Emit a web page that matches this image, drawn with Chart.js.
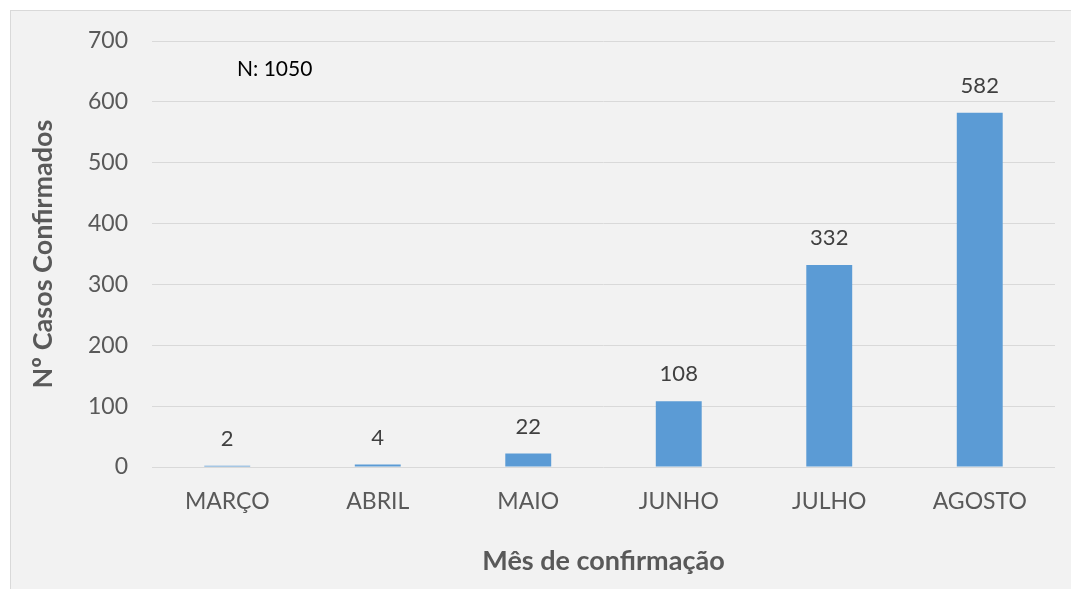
<!DOCTYPE html>
<html>
<head>
<meta charset="utf-8">
<script src="https://cdn.jsdelivr.net/npm/chart.js@4"></script>
<style>
    html, body { margin: 0; padding: 0; background: #ffffff; overflow: hidden; }
    .frame {
        position: absolute;
        left: 10px;
        top: 10px;
        width: 1080px;
        height: 600px;
        background: #f2f2f2;
        border: 1px solid #d9d9d9;
    }
    .wrap { position: absolute; left: 0; top: 0; width: 1071px; height: 589px; }
</style>
</head>
<body>
<div class="frame"></div>
<div class="wrap"><canvas id="casesChart" width="1071" height="589"></canvas></div>
<script>
// ==================== Data ====================
const months = ['MARÇO', 'ABRIL', 'MAIO', 'JUNHO', 'JULHO', 'AGOSTO'];
const confirmedCases = [2, 4, 22, 108, 332, 582];
const totalLabel = 'N: 1050';

const FONT = 'Lato, "Open Sans", sans-serif';

// ==================== Value labels ====================
const valueLabels = {
    id: 'valueLabels',
    afterDatasetsDraw(chart) {
        const ctx = chart.ctx;
        const meta = chart.getDatasetMeta(0);
        ctx.save();
        ctx.font = '22px ' + FONT;
        ctx.fillStyle = '#404040';
        ctx.textAlign = 'center';
        ctx.textBaseline = 'alphabetic';
        meta.data.forEach((bar, i) => {
            ctx.fillText(String(confirmedCases[i]), bar.x, bar.y - 20);
        });

        // total count note
        const yScale = chart.scales.y;
        ctx.font = '21px ' + FONT;
        ctx.fillStyle = '#000000';
        ctx.textAlign = 'left';
        ctx.textBaseline = 'middle';
        ctx.fillText(totalLabel, chart.chartArea.left + 85, yScale.getPixelForValue(654));
        ctx.restore();
    }
};

// ==================== Chart ====================
const ctx = document.getElementById('casesChart').getContext('2d');
const casesChart = new Chart(ctx, {
    type: 'bar',
    data: {
        labels: months,
        datasets: [{
            data: confirmedCases,
            backgroundColor: '#5b9bd5',
            borderWidth: 0,
            categoryPercentage: 1,
            barPercentage: 0.305
        }]
    },
    options: {
        responsive: false,
        animation: false,
        layout: {
            padding: { top: 41, right: 16, bottom: 0, left: 0 }
        },
        plugins: {
            legend: { display: false },
            tooltip: { enabled: false }
        },
        scales: {
            x: {
                grid: { display: false, drawTicks: false },
                border: { display: false },
                ticks: {
                    color: '#595959',
                    font: { family: FONT, size: 23 },
                    padding: 21
                },
                title: {
                    display: true,
                    text: 'Mês de confirmação',
                    color: '#595959',
                    font: { family: FONT, size: 27, weight: 'bold' },
                    padding: { top: 12, bottom: 12 }
                },
                afterFit(scale) { scale.height = 122; }
            },
            y: {
                min: 0,
                max: 700,
                grid: { color: '#d9d9d9', lineWidth: 1, drawTicks: false },
                border: { display: false },
                ticks: {
                    stepSize: 100,
                    color: '#595959',
                    font: { family: FONT, size: 23 },
                    padding: 24
                },
                title: {
                    display: true,
                    text: 'Nº Casos Confirmados',
                    color: '#595959',
                    font: { family: FONT, size: 27, weight: 'bold' },
                    padding: { top: 27, bottom: 27 }
                },
                afterFit(scale) { scale.width = 152; }
            }
        }
    },
    plugins: [valueLabels]
});
</script>
</body>
</html>
